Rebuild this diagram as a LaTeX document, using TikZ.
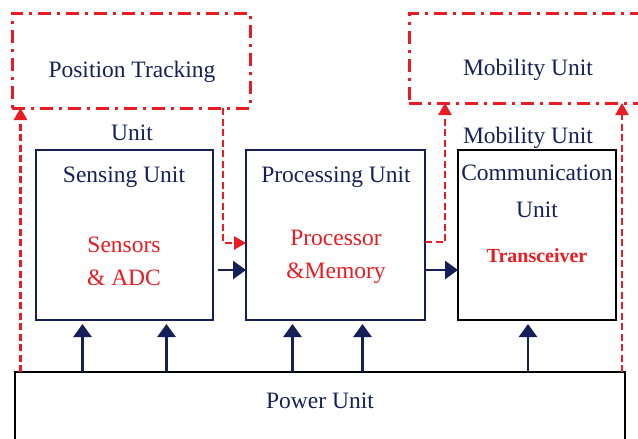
\documentclass[tikz,border=0pt]{standalone}
\usepackage{fontspec}
\setmainfont{Liberation Serif}
\usetikzlibrary{arrows.meta,chains,positioning}
\definecolor{navy}{RGB}{22,32,88}
\definecolor{alertred}{RGB}{232,28,34}

\begin{document}
\begin{tikzpicture}[x=1pt, y=-1pt,
node distance=33pt,
 start chain = U going right,
    B/.style = {rectangle, draw=navy, line width=2.8pt,% unit boxes in a row (chain)
                minimum height=170pt, outer sep=0pt, on chain},
    D/.style = {rectangle, draw=alertred, line width=3pt,% dash-dot boxes on top
                dash pattern=on 13pt off 6pt on 3pt off 6pt,
                anchor=north west, outer sep=0pt},
    T/.style = {anchor=base, text=navy, font=\fontsize{23.5}{28}\selectfont},
    R/.style = {anchor=base, text=alertred, font=\fontsize{23.5}{28}\selectfont},
    A/.style = {draw=navy, line width=2.8pt, -{Triangle[width=18pt,length=13pt]}},
    Q/.style = {draw=alertred, line width=2.6pt, dash pattern=on 7pt off 3.5pt,
                -{Triangle[width=13pt,length=12pt]}},
                        ]
\useasboundingbox (0,0) rectangle (638,439);
\node[B, minimum width=177pt, anchor=north west] (sense) at (36,150) {};
\node[B, minimum width=179pt] (proc) {};
\node[B, minimum width=158pt, draw=black, node distance=32pt] (comm) {};
\node[rectangle, draw, line width=2.8pt, minimum width=610pt, minimum height=80pt,
      anchor=north west, outer sep=0pt] (pwr) at (15,372) {};
\node[D, minimum width=238pt, minimum height=95pt] (pos) at (12,13) {};
\node[D, minimum width=240pt, minimum height=90pt] (mob) at (409,13) {};
% texts
\node[T] (posT)   at (132,77)  {Position Tracking};
\node[T] (posU)   at (132,140) {Unit};
\node[T] (mobT)   at (528,75)  {Mobility Unit};
\node[T] (mobU)   at (528,143) {Mobility Unit};
\node[T] (senseT) at (124,182) {Sensing Unit};
\node[R] (senseA) at (124,252) {Sensors};
\node[R] (senseB) at (124,285) {\&~ADC};
\node[T] (procT)  at (336,182) {Processing Unit};
\node[R] (procA)  at (336,245) {Processor};
\node[R] (procB)  at (336,278) {\&Memory};
\node[T] (commT)  at (537,180) {Communication};
\node[T] (commU)  at (537,217) {Unit};
\node[R, font=\fontsize{20}{24}\selectfont\bfseries] (commA) at (537,262) {Transceiver};
\node[T] (pwrT)   at (320,408) {Power Unit};
% red links
\draw[Q] ([xshift=5.5pt]pwr.north west) -- ([xshift=5.5pt]pwr.north west |- pos.south);
\draw[Q] ([xshift=10pt]sense.east |- pos.south) |- ([yshift=-8pt]proc.west);
\draw[Q] ([yshift=-7pt]proc.east) -| ([xshift=20pt]proc.east |- mob.south);
\draw[Q] ([xshift=-3pt]pwr.north east) -- ([xshift=-3pt]pwr.north east |- mob.south);
% navy links
\draw[A, shorten <=5pt] ([yshift=-35pt]sense.east) -- ([yshift=-35pt]proc.west);
\draw[A] ([yshift=-35pt]proc.east) -- ([yshift=-35pt]comm.west);
\foreach \d/\b in {-42/sense,42/sense,-43/proc,27/proc,-9/comm}% <-- offsets of power lines
    \draw[A, shorten >=4pt] ([xshift=\d pt]\b.south |- pwr.north) -- ([xshift=\d pt]\b.south);
\end{tikzpicture}
\end{document}
